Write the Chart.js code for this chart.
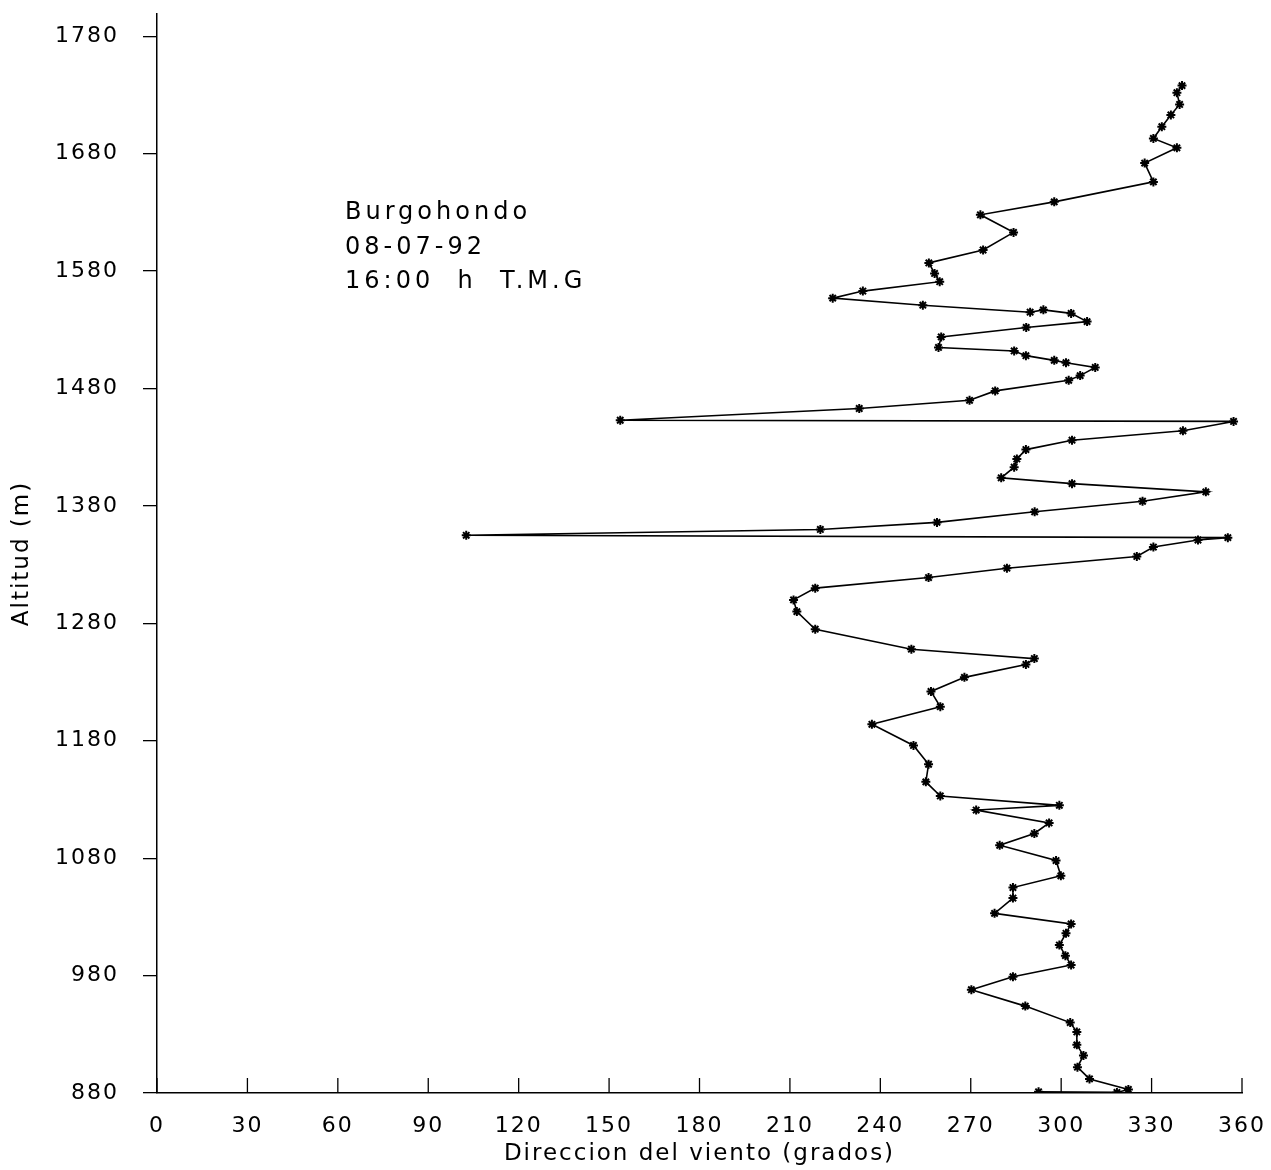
<!DOCTYPE html>
<html>
<head>
<meta charset="utf-8">
<script src="https://cdn.jsdelivr.net/npm/chart.js@4.4.0/dist/chart.umd.min.js"></script>
<style>
  html, body { margin: 0; padding: 0; background: #fff; }
</style>
</head>
<body>
<canvas id="myChart" width="1271" height="1170"></canvas>
<script>

/******************** Data ********************/

// altitude (m) and wind direction (degrees), read from top to bottom of the profile
var altitud = [1738, 1732, 1722, 1713, 1703, 1693, 1685, 1672, 1656, 1639,
  1628, 1613, 1598, 1587, 1578, 1571, 1563, 1557, 1551, 1545,
  1547, 1544, 1537, 1532, 1524, 1515, 1512, 1508, 1504, 1502,
  1498, 1491, 1487, 1478, 1470, 1463, 1453, 1452, 1444, 1436,
  1428, 1420, 1413, 1404, 1399, 1392, 1384, 1375, 1366, 1360,
  1355, 1353, 1351, 1345, 1337, 1327, 1319, 1310, 1300, 1290,
  1275, 1258, 1250, 1245, 1234, 1222, 1209, 1194, 1176, 1160,
  1145, 1133, 1125, 1121, 1110, 1101, 1091, 1078, 1065, 1055,
  1046, 1033, 1024, 1016, 1006, 997, 989, 979, 968, 954,
  940, 932, 921, 912, 902, 892, 883, 880.5, 881];

var direccion = [340.1, 338.4, 339.3, 336.4, 333.4, 330.6, 338.4, 327.7, 330.6, 297.7,
  273.2, 284.2, 274.1, 256.1, 258.0, 259.7, 234.2, 224.2, 254.1, 289.7,
  294.1, 303.3, 308.6, 288.4, 260.2, 259.3, 284.4, 288.3, 297.7, 301.6,
  311.3, 306.3, 302.5, 278.1, 269.6, 233.0, 153.7, 357.2, 340.4, 303.6,
  288.3, 285.3, 284.4, 280.1, 303.6, 348.0, 327.0, 291.2, 258.8, 220.1,
  102.6, 355.3, 345.4, 330.6, 325.1, 282.0, 256.0, 218.4, 211.2, 212.3,
  218.4, 250.3, 291.1, 288.3, 267.9, 256.8, 259.9, 237.2, 251.0, 256.0,
  255.1, 259.9, 299.4, 271.8, 296.0, 291.1, 279.6, 298.3, 299.9, 284.0,
  284.0, 277.9, 303.3, 301.6, 299.4, 301.4, 303.3, 284.0, 270.2, 288.1,
  303.0, 305.2, 305.2, 307.4, 305.4, 309.4, 322.3, 318.5, 292.5];

var yTicks = [880, 980, 1080, 1180, 1280, 1380, 1480, 1580, 1680, 1780];
var infoLines = ["Burgohondo", "08-07-92", "16:00  h  T.M.G"];

var points = altitud.map(function(a, i) {
  return {x: direccion[i], y: a};
});

/******************** Plugins ********************/

var FONT = '"DejaVu Sans", sans-serif';

var pageSetup = {
  id: 'pageSetup',
  beforeUpdate: function(chart) {
    chart.ctx.letterSpacing = '2px';
  },
  beforeDraw: function(chart) {
    var ctx = chart.ctx;
    ctx.save();
    ctx.fillStyle = '#fff';
    ctx.fillRect(0, 0, chart.width, chart.height);
    ctx.restore();
    ctx.letterSpacing = '2px';
  }
};

// x ticks point up into the plot, like the original
var innerTicks = {
  id: 'innerTicks',
  afterDraw: function(chart) {
    var ctx = chart.ctx;
    var x = chart.scales.x;
    var bottom = chart.chartArea.bottom;
    ctx.save();
    ctx.strokeStyle = '#000';
    ctx.lineWidth = 1.3;
    x.ticks.forEach(function(t) {
      var px = x.getPixelForValue(t.value);
      ctx.beginPath();
      ctx.moveTo(px, bottom);
      ctx.lineTo(px, bottom - 15);
      ctx.stroke();
    });
    ctx.restore();
  }
};

var infoText = {
  id: 'infoText',
  afterDraw: function(chart) {
    var ctx = chart.ctx;
    ctx.save();
    ctx.font = '24px ' + FONT;
    ctx.letterSpacing = '4px';
    ctx.fillStyle = '#000';
    ctx.textAlign = 'left';
    ctx.textBaseline = 'alphabetic';
    var base = [219, 254, 288];
    infoLines.forEach(function(s, i) {
      ctx.fillText(s, 345, base[i]);
    });
    ctx.restore();
  }
};

/******************** Chart ********************/

new Chart("myChart", {
  type: "scatter",
  data: {
    datasets: [{
      data: points,
      showLine: true,
      borderColor: "#000",
      borderWidth: 1.6,
      tension: 0,
      pointStyle: "star",
      pointRadius: 4.5,
      pointBorderWidth: 2,
      pointBorderColor: "#000",
      pointBackgroundColor: "#000"
    }]
  },
  options: {
    responsive: false,
    animation: false,
    layout: {padding: {left: 0, right: 29, top: 14, bottom: 0}},
    plugins: {
      legend: {display: false},
      tooltip: {enabled: false}
    },
    scales: {
      x: {
        type: "linear",
        min: 0,
        max: 360,
        ticks: {
          stepSize: 30,
          color: "#000",
          padding: 20,
          font: {family: FONT, size: 22}
        },
        grid: {display: false, drawTicks: false},
        border: {display: true, color: "#000", width: 1.5},
        title: {
          display: true,
          text: "Direccion del viento (grados)",
          color: "#000",
          font: {family: FONT, size: 23},
          padding: {top: 0, bottom: 2}
        },
        afterFit: function(scale) {
          scale.height = 77;
          scale.paddingLeft = 0;
          scale.paddingRight = 0;
        }
      },
      y: {
        type: "linear",
        min: 880,
        max: 1799,
        afterBuildTicks: function(scale) {
          scale.ticks = yTicks.map(function(v) { return {value: v}; });
        },
        ticks: {
          color: "#000",
          padding: 24,
          font: {family: FONT, size: 22},
          callback: function(v) { return String(v); }
        },
        grid: {drawOnChartArea: false, drawTicks: true, tickLength: 14, color: "#000", lineWidth: 1.3},
        border: {display: true, color: "#000", width: 1.5},
        title: {
          display: true,
          text: "Altitud (m)",
          color: "#000",
          font: {family: FONT, size: 23},
          padding: {top: 8, bottom: 0}
        },
        afterFit: function(scale) {
          scale.width = 157;
          scale.paddingTop = 0;
          scale.paddingBottom = 0;
        }
      }
    }
  },
  plugins: [pageSetup, innerTicks, infoText]
});
</script>
</body>
</html>
